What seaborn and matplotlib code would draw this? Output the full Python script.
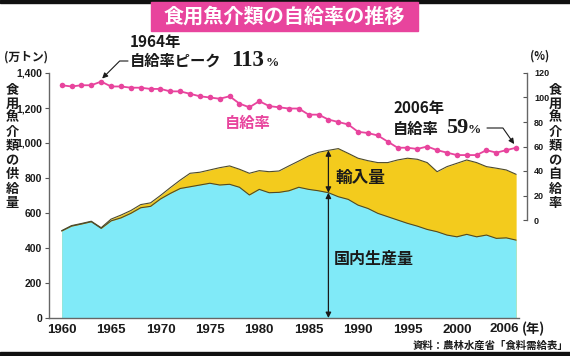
import matplotlib
matplotlib.use("Agg")
import matplotlib.pyplot as plt
import seaborn as sns
import pandas as pd
from matplotlib.patches import Rectangle

# ---------------- data ----------------
years = list(range(1960, 2007))
domestic = [497, 525, 537, 550, 512, 555, 572, 598, 630, 638,
            680, 712, 740, 750, 760, 770, 760, 764, 747, 703,
            735, 716, 718, 727, 747, 735, 727, 716, 693, 678,
            645, 626, 598, 579, 560, 541, 525, 506, 493, 474,
            464, 478, 464, 474, 455, 458, 445]
supply = [499, 528, 540, 553, 516, 565, 588, 614, 648, 658,
          700, 745, 788, 827, 833, 846, 859, 869, 850, 827,
          842, 836, 840, 869, 897, 926, 947, 958, 968, 941,
          913, 899, 888, 888, 903, 913, 907, 888, 836, 865,
          884, 903, 888, 865, 856, 846, 821]
self_rate = [110, 109, 110, 110, 113, 109, 109, 108, 108, 107,
             107, 105, 105, 103, 101, 100, 99, 101, 95, 92,
             97, 93, 92, 91, 91, 86, 86, 82, 80, 78,
             72, 71, 69, 64, 59, 59, 58, 60, 57, 55,
             53, 53, 53, 57, 55, 57, 59]
left_ticks = [0, 200, 400, 600, 800, 1000, 1200, 1400]
right_ticks = [0, 20, 40, 60, 80, 100, 120]
x_ticks = [1960, 1965, 1970, 1975, 1980, 1985, 1990, 1995, 2000]

title = "食用魚介類の自給率の推移"
left_label = "食用魚介類の供給量"
right_label = "食用魚介類の自給率"
source = "資料：農林水産省「食料需給表」"

df = pd.DataFrame({"year": years, "domestic": domestic,
                   "supply": supply, "rate": self_rate})

# ---------------- style ----------------
sns.set_style("white")
JP = ["Noto Sans CJK JP", "DejaVu Sans"]
NUM = ["Liberation Sans Narrow", "Liberation Sans", "DejaVu Sans"]
plt.rcParams["font.family"] = JP

PINK = "#E8449D"
CYAN = "#80EAF8"
YELLOW = "#F3CB1D"
EDGE = "#4d4a2a"
DARK = "#1a1a1a"

W, H = 570, 356
fig = plt.figure(figsize=(W / 100, H / 100), dpi=100)

def fx(px):
    return px / W

def fy(py):
    return 1 - py / H

ax = fig.add_axes([fx(49), fy(318), fx(527) - fx(49), fy(73) - fy(318)])

ax.fill_between(df["year"], 0, df["supply"], color=YELLOW, lw=0, zorder=1)
ax.fill_between(df["year"], 0, df["domestic"], color=CYAN, lw=0, zorder=1.1)
sns.lineplot(data=df, x="year", y="supply", ax=ax, color=EDGE, lw=0.8, zorder=2)
sns.lineplot(data=df, x="year", y="domestic", ax=ax, color=EDGE, lw=0.8, zorder=2)

ax.set_xlim(1958.72, 2007.1)
ax.set_ylim(0, 1400)
ax.set_xlabel("")
ax.set_ylabel("")
ax.set_yticks(left_ticks)
ax.set_yticklabels([f"{v:,}" for v in left_ticks], family=NUM,
                   fontsize=7.5, fontweight="bold", color=DARK)
ax.set_xticks(x_ticks)
ax.set_xticklabels([str(v) for v in x_ticks], family=NUM,
                   fontsize=9.5, fontweight="bold", color=DARK)
ax.set_xticks(years, minor=True)
ax.tick_params(axis="y", direction="out", length=3, width=0.8, pad=2, color="#555")
ax.tick_params(axis="x", which="both", direction="in", length=3, width=0.7,
               pad=4, color="#555")
for s in ["top", "right"]:
    ax.spines[s].set_visible(False)
for s in ["left", "bottom"]:
    ax.spines[s].set_color("#666")
    ax.spines[s].set_linewidth(1.0)
ax.spines["bottom"].set_bounds(1958.72, 2006.3)

# twin axis for self-sufficiency rate
ax2 = ax.twinx()
sns.lineplot(data=df, x="year", y="rate", ax=ax2, color=PINK, lw=1.3,
             marker="o", markersize=4, markeredgewidth=0, zorder=5)
ax2.set_ylim(-80, 120)
ax2.set_ylabel("")
ax2.set_yticks(right_ticks)
ax2.set_yticklabels([str(v) for v in right_ticks], family=NUM,
                    fontsize=6.5, fontweight="bold", color=DARK)
ax2.tick_params(axis="y", direction="in", length=3, width=0.8, pad=5, color="#555")
for s in ["top", "left", "bottom"]:
    ax2.spines[s].set_visible(False)
ax2.spines["right"].set_bounds(0, 120)
ax2.spines["right"].set_color("#666")
ax2.spines["right"].set_linewidth(1.0)

# 1987 arrows
yr = 1987
i = years.index(yr)
arr = dict(arrowstyle="<|-|>", color=DARK, lw=0.9, mutation_scale=8,
           shrinkA=0, shrinkB=0)
ax.annotate("", xy=(yr, supply[i]), xytext=(yr, domestic[i]), arrowprops=arr, zorder=6)
ax.annotate("", xy=(yr, domestic[i]), xytext=(yr, 0), arrowprops=arr, zorder=6)

# 1964 peak annotation
ax2.annotate("", xy=(1964.1, 115.5), xycoords="data",
             xytext=(fx(128), fy(61)), textcoords="figure fraction",
             arrowprops=dict(arrowstyle="-|>", color=DARK, lw=0.8, mutation_scale=8,
                             shrinkA=0, shrinkB=0,
                             connectionstyle="angle,angleA=0,angleB=45,rad=0"))
# 2006 annotation
ax2.annotate("", xy=(2005.8, 62), xycoords="data",
             xytext=(fx(487), fy(128)), textcoords="figure fraction",
             arrowprops=dict(arrowstyle="-|>", color=DARK, lw=0.8, mutation_scale=8,
                             shrinkA=0, shrinkB=0,
                             connectionstyle="angle,angleA=0,angleB=-55,rad=0"))

# ---------------- texts ----------------
fig.patches.append(Rectangle((0, fy(2.5)), 1, 2.5 / H, transform=fig.transFigure,
                             color="#111", zorder=0))
fig.patches.append(Rectangle((0, 0), 1, 4 / H, transform=fig.transFigure,
                             color="#111", zorder=0))
fig.patches.append(Rectangle((fx(151), fy(31)), fx(418) - fx(151), 29 / H,
                             transform=fig.transFigure, color=PINK, zorder=0))
fig.text(fx(284.5), fy(16.5), title, color="white", fontsize=14.5, fontweight="bold",
         ha="center", va="center", family=JP)

fig.text(fx(4), fy(57), "(万トン)", fontsize=8.5, fontweight="bold", ha="left",
         va="center", color=DARK)
fig.text(fx(12), fy(146), "\n".join(left_label), fontsize=9.5, fontweight="bold",
         ha="center", va="center", linespacing=1.02, color=DARK)
fig.text(fx(540), fy(56), "(%)", fontsize=8, fontweight="bold", ha="center",
         va="center", color=DARK)
fig.text(fx(555), fy(146), "\n".join(right_label), fontsize=9.5, fontweight="bold",
         ha="center", va="center", linespacing=1.02, color=DARK)

fig.text(fx(130), fy(42), "1964年", fontsize=11, fontweight="bold", ha="left",
         va="center", color=DARK)
fig.text(fx(130), fy(61), "自給率ピーク", fontsize=11, fontweight="bold", ha="left",
         va="center", color=DARK)
fig.text(fx(231), fy(61), "113", fontsize=16.5, fontweight="bold", ha="left",
         va="center", family=["Liberation Serif"], color=DARK)
fig.text(fx(266), fy(63), "%", fontsize=9.5, fontweight="bold", ha="left",
         va="center", family=["Liberation Serif"], color=DARK)

fig.text(fx(248), fy(123), "自給率", fontsize=11, ha="center", va="center",
         color=PINK, fontweight="bold")

fig.text(fx(393), fy(108), "2006年", fontsize=11, fontweight="bold", ha="left",
         va="center", color=DARK)
fig.text(fx(393), fy(129), "自給率", fontsize=11, fontweight="bold", ha="left",
         va="center", color=DARK)
fig.text(fx(446), fy(128), "59", fontsize=16, fontweight="bold", ha="left",
         va="center", family=["Liberation Serif"], color=DARK)
fig.text(fx(468), fy(130), "%", fontsize=9.5, fontweight="bold", ha="left",
         va="center", family=["Liberation Serif"], color=DARK)

fig.text(fx(335), fy(178), "輸入量", fontsize=12, fontweight="bold", ha="left",
         va="center", color=DARK)
fig.text(fx(334), fy(259), "国内生産量", fontsize=11.5, fontweight="bold", ha="left",
         va="center", color=DARK)

fig.text(fx(490), fy(329), "2006", fontsize=9.5, fontweight="bold", ha="left",
         va="center", family=NUM, color=DARK)
fig.text(fx(522), fy(329), "(年)", fontsize=9.5, fontweight="bold", ha="left",
         va="center", color=DARK)

fig.text(fx(568), fy(346), source, fontsize=7.5, ha="right", va="center",
         color=DARK, fontweight="bold")

fig.savefig("out.png", dpi=100)
